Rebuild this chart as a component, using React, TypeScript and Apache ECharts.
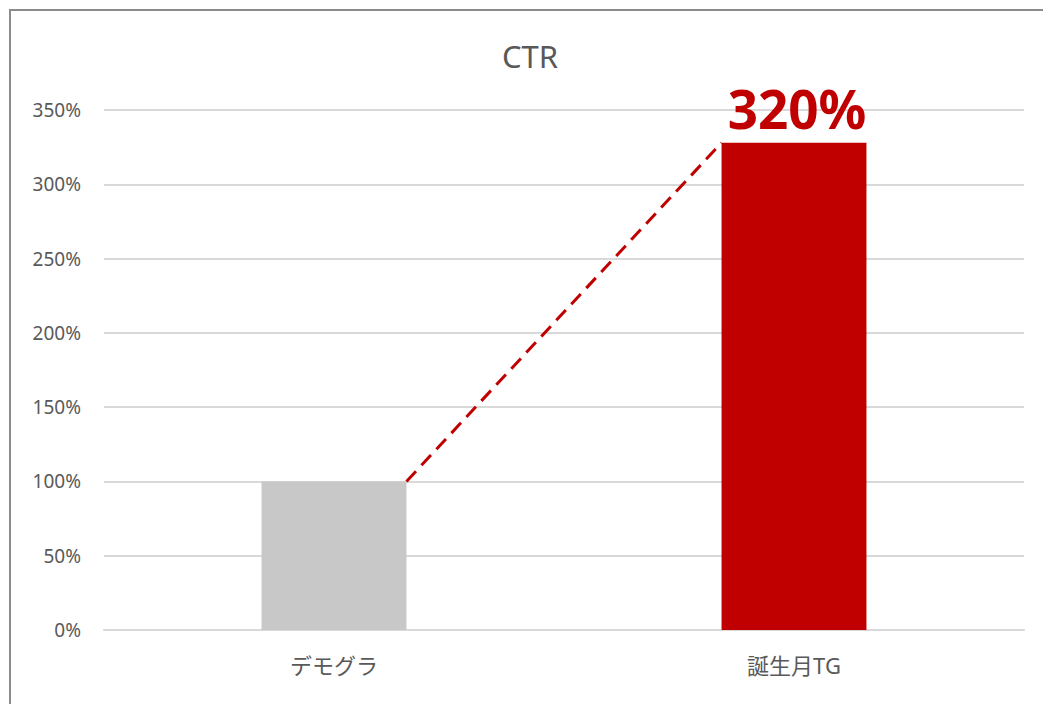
import React, { useEffect, useRef } from "react";
import * as echarts from "echarts";

const categories = ["デモグラ", "誕生月TG"];
const values = [100, 328];
const barColors = ["#C8C8C8", "#C00000"];
const valueLabels = ["", "320%"];
const yTicks = { min: 0, max: 350, interval: 50 };
const titleText = "CTR";

const FONT = "'Noto Sans', 'Noto Sans CJK JP', sans-serif";

export default function App() {
  const ref = useRef<HTMLDivElement>(null);
  useEffect(() => {
    if (!ref.current) return;
    const chart = echarts.init(ref.current, undefined, { renderer: "svg" });
    const barWidthRatio = 0.315;
    chart.setOption({
      animation: false,
      textStyle: { fontFamily: FONT },
      title: {
        text: titleText,
        left: 502,
        top: 40,
        textStyle: { fontFamily: FONT, fontSize: 31, fontWeight: "normal", color: "#595959" },
        padding: 0,
      },
      graphic: [
        {
          type: "rect",
          shape: { x: 10, y: 10, width: 1200, height: 900 },
          style: { fill: "none", stroke: "#8C8C8C", lineWidth: 2 },
          silent: true,
        },
      ],
      grid: { left: 104, right: 19, top: 110, bottom: 74 },
      xAxis: {
        type: "category",
        data: categories,
        axisLine: { show: true, lineStyle: { color: "#D9D9D9", width: 2 } },
        axisTick: { show: false },
        axisLabel: { color: "#595959", fontSize: 22, margin: 24, fontFamily: FONT },
      },
      yAxis: {
        type: "value",
        min: yTicks.min,
        max: yTicks.max,
        interval: yTicks.interval,
        axisLine: { show: false },
        axisTick: { show: false },
        splitLine: { lineStyle: { color: "#D9D9D9", width: 2 } },
        axisLabel: { color: "#595959", fontSize: 19, margin: 23, formatter: "{value}%", fontFamily: FONT },
      },
      series: [
        {
          type: "bar",
          barWidth: barWidthRatio * 100 + "%",
          data: values.map((v, i) => ({
            value: v,
            itemStyle: { color: barColors[i] },
            label: {
              show: valueLabels[i] !== "",
              position: "top",
              distance: 8,
              offset: [3, 0],
              formatter: valueLabels[i],
              color: "#C00000",
              fontSize: 53,
              fontWeight: "bold",
              fontFamily: FONT,
            },
          })),
          z: 2,
        },
        {
          type: "custom",
          z: 3,
          data: [[0, values[0], 1, values[1]]],
          renderItem: (params: any, api: any) => {
            const p0 = api.coord([api.value(0), api.value(1)]);
            const p1 = api.coord([api.value(2), api.value(3)]);
            const band = api.size([1, 0])[0];
            const half = (band * barWidthRatio) / 2;
            return {
              type: "line",
              shape: { x1: p0[0] + half, y1: p0[1], x2: p1[0] - half, y2: p1[1] },
              style: { stroke: "#C00000", lineWidth: 3, lineDash: [14, 8], fill: null },
            };
          },
        },
      ],
    });
    return () => chart.dispose();
  }, []);
  return (
    <div
      ref={ref}
      style={{ position: "fixed", left: 0, top: 0, width: 1043, height: 704, background: "#fff" }}
    />
  );
}
